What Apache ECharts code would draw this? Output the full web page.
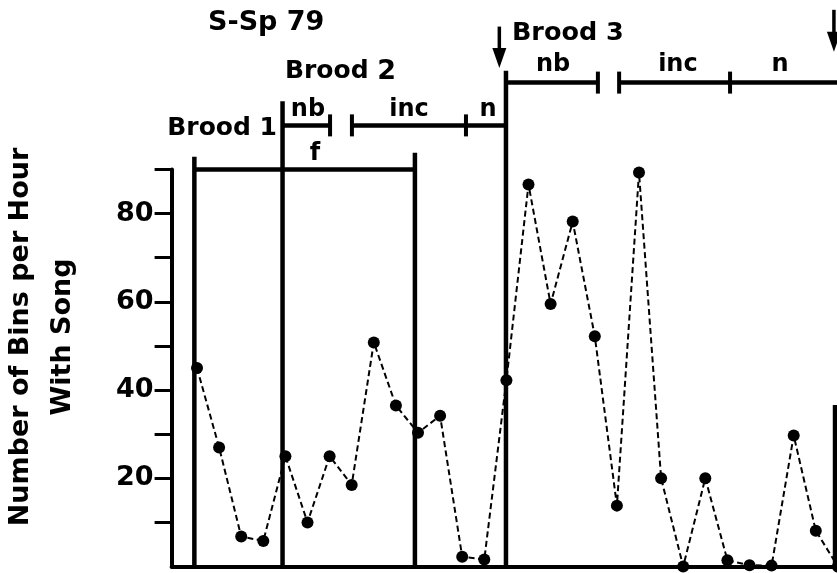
<!DOCTYPE html>
<html><head><meta charset="utf-8">
<script src="https://cdn.jsdelivr.net/npm/echarts@6/dist/echarts.min.js"></script>
<style>html,body{margin:0;padding:0;background:#fff}#c{width:837px;height:573px}</style>
</head><body><div id="c"></div>
<script>
// hour-bin index along the x axis
const hours = [0,1,2,3,4,5,6,7,8,9,10,11,12,13,14,15,16,17,18,19,20,21,22,23,24,25,26,27,28,29];
// number of bins per hour with song
const binsWithSong = [45,27,6.8,5.8,25,10,25,18.5,50.8,36.5,30.3,34.2,2.2,1.6,42.2,86.6,59.5,78.2,52.2,13.8,89.3,20,0,20,1.4,0.3,0.2,29.7,8.1,0];
const yTickValues = [10,20,30,40,50,60,70,80,90];
const yLabelValues = [20,40,60,80];

// phase annotations, in axis units: [x1, y1, x2, y2]
const boundaryLines = [[-0.12,0,-0.12,92.9],[3.87,0,3.87,105.5],[9.86,0,9.86,93.8],[13.98,0,13.98,112.4],[28.87,0,28.87,36.6]];
const phaseBars = [[-0.12,90,9.86,90],[3.87,100,6.02,100],[7.01,100,13.98,100],[13.98,109.7,18.14,109.7],[19.10,109.7,31,109.7]];
const phaseTicks = [[6.02,100],[7.01,100],[12.17,100],[18.14,109.7],[19.10,109.7],[24.12,109.7]];
// [x, yTop, yTip]
const arrows = [[13.68,122.4,113.0],[28.82,126.2,116.7]];
// label anchors
const labelX = [3.62, 3.98, 5.02, 9.59, 13.17, 5.34, 14.25, 16.11, 21.76, 26.38];
const labelY = [99.2, 112.2, 103.6, 103.6, 103.6, 93.6, 120.9, 113.7, 113.7, 113.7];
const labelText = ['Brood 1', '{a|Brood }{b|2}', 'nb', 'inc', 'n', 'f', 'Brood 3', 'nb', 'inc', 'n'];
const labelAlign = ['right','left','center','center','center','center','left','center','center','center'];
const labelSize = [25, 25, 24, 24, 24, 24, 25.5, 24, 24, 24];

const FONT = 'DejaVu Sans';
const chart = echarts.init(document.getElementById('c'), null, {renderer:'canvas'});

const segData = boundaryLines.concat(phaseBars);

chart.setOption({
  animation: false,
  backgroundColor: '#fff',
  title: {
    text: 'S-Sp 79', left: 208, top: 9, padding: 0,
    textStyle: {fontFamily: FONT, fontSize: 27, fontWeight: 'bold', color: '#000'}
  },
  grid: {left: 171.6, top: 169.5, right: -23, bottom: 6.5, outerBoundsMode: 'none', containLabel: false},
  xAxis: {
    type: 'value', min: -1.15, max: 30,
    axisLine: {show: true, onZero: false, lineStyle: {color: '#000', width: 4}},
    axisTick: {show: false}, axisLabel: {show: false}, splitLine: {show: false}
  },
  yAxis: {
    type: 'value', min: 0, max: 90, interval: 10,
    name: 'Number of Bins per Hour\nWith Song',
    nameLocation: 'middle', nameRotate: 90, nameGap: 88,
    nameTextStyle: {fontFamily: FONT, fontSize: 27, fontWeight: 'bold', lineHeight: 42, color: '#000', padding: [0,0,0,62]},
    axisLine: {show: true, onZero: false, lineStyle: {color: '#000', width: 4}},
    axisTick: {show: true, length: 17, inside: false, customValues: yTickValues, lineStyle: {color: '#000', width: 3}},
    axisLabel: {show: true, margin: 18, customValues: yLabelValues, fontFamily: FONT, fontSize: 27, fontWeight: 'bold', color: '#000'},
    splitLine: {show: false}
  },
  series: [
    {
      type: 'custom', clip: false, silent: true, z: 2,
      encode: {x: [0,2], y: [1,3]},
      data: segData,
      renderItem: function (params, api) {
        const p1 = api.coord([api.value(0), api.value(1)]);
        const p2 = api.coord([api.value(2), api.value(3)]);
        return {type: 'line', shape: {x1: p1[0], y1: p1[1], x2: p2[0], y2: p2[1]},
          style: {stroke: '#000', lineWidth: 4.5, lineCap: 'butt'}};
      }
    },
    {
      type: 'custom', clip: false, silent: true, z: 2,
      data: phaseTicks,
      renderItem: function (params, api) {
        const p = api.coord([api.value(0), api.value(1)]);
        return {type: 'line', shape: {x1: p[0], y1: p[1] - 11, x2: p[0], y2: p[1] + 11},
          style: {stroke: '#000', lineWidth: 4}};
      }
    },
    {
      type: 'custom', clip: false, silent: true, z: 2,
      encode: {x: 0, y: [1,2]},
      data: arrows,
      renderItem: function (params, api) {
        const top = api.coord([api.value(0), api.value(1)]);
        const tip = api.coord([api.value(0), api.value(2)]);
        const x = top[0];
        return {type: 'group', children: [
          {type: 'line', shape: {x1: x, y1: top[1], x2: x, y2: tip[1] - 14}, style: {stroke: '#000', lineWidth: 3.5}},
          {type: 'polygon', shape: {points: [[x - 7, tip[1] - 20], [x + 7, tip[1] - 20], [x, tip[1]]]}, style: {fill: '#000'}}
        ]};
      }
    },
    {
      type: 'custom', clip: false, silent: true, z: 3,
      data: labelX.map((x, i) => [x, labelY[i], i]),
      renderItem: function (params, api) {
        const i = api.value(2);
        const p = api.coord([api.value(0), api.value(1)]);
        const fs = labelSize[i];
        return {type: 'text', x: p[0], y: p[1], style: {
          text: labelText[i], fontFamily: FONT, fontSize: fs, fontWeight: 'bold', fill: '#000',
          align: labelAlign[i], verticalAlign: 'middle',
          rich: {a: {fontFamily: FONT, fontSize: fs, fontWeight: 'bold', fill: '#000'}, b: {fontFamily: FONT, fontSize: 27, fontWeight: 'bold', fill: '#000'}}
        }};
      }
    },
    {
      type: 'line', z: 4,
      data: hours.map((h, i) => [h, binsWithSong[i]]),
      symbol: 'circle', symbolSize: 12,
      itemStyle: {color: '#000'},
      lineStyle: {color: '#000', width: 2, type: [6, 3.5]}
    }
  ]
});
</script></body></html>
